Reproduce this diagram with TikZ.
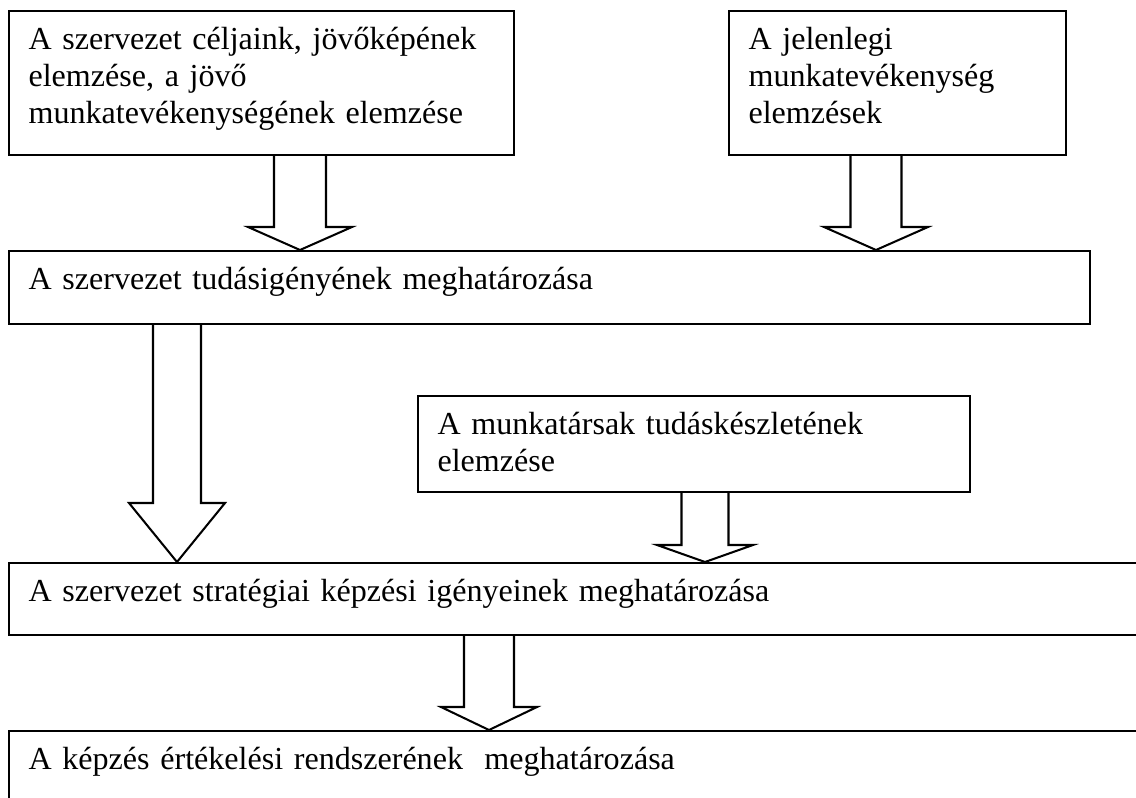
\documentclass[tikz,border=0pt]{standalone}
\usepackage{fontspec}
\setmainfont{Liberation Serif}
\usepackage{tikz}
\usetikzlibrary{calc}

\def\px{0.368pt}
\tikzset{
  doboz/.style={draw, line width=0.75pt, anchor=north west, align=left,
    inner xsep=7.2pt, inner ysep=3.6pt, text height=10.5pt,
    font=\fontsize{11.8}{13.6}\selectfont},
  nyil/.style={line width=0.75pt}
}
% hollow block arrow: x, from node, to node, half shaft, half head, head length
\newcommand{\tompanyil}[6]{%
  \draw[nyil] let \p1=(#2.south), \p2=(#3.north), \p3=(#1,0) in
    (\x3-#4*\px,\y1) -- (\x3-#4*\px,\y2+#6*\px) -- (\x3-#5*\px,\y2+#6*\px)
    -- (\x3,\y2) -- (\x3+#5*\px,\y2+#6*\px) -- (\x3+#4*\px,\y2+#6*\px)
    -- (\x3+#4*\px,\y1);}

\begin{document}
\begin{tikzpicture}[x=0.368pt,y=-0.368pt]
\useasboundingbox (0,0) rectangle (1136,798);
\node[doboz, text width=171.4pt, text depth=35.3pt] (celok) at (8,10)
  {A szervezet céljaink, jövőképének\\elemzése, a jövő\\munkatevékenységének elemzése};
\node[doboz, text width=109.6pt, text depth=35.3pt] (jelen) at (728,10)
  {A jelenlegi\\munkatevékenység\\elemzések};
\node[doboz, text width=383.4pt, text depth=9.2pt] (tudasigeny) at (8,250)
  {A szervezet tudásigényének meghatározása};
\node[doboz, text width=188.7pt, text depth=17.6pt] (keszlet) at (417,395)
  {A munkatársak tudáskészletének\\elemzése};
\node[doboz, text width=409.5pt, text depth=8.8pt] (strategia) at (8,562)
  {A szervezet stratégiai képzési igényeinek meghatározása};
\node[doboz, text width=409.5pt, text depth=15.4pt] (ertekeles) at (8,730)
  {A képzés értékelési rendszerének~ meghatározása};
\tompanyil{300}{celok}{tudasigeny}{26}{52}{23}
\tompanyil{876}{jelen}{tudasigeny}{25.5}{52}{23}
\tompanyil{177}{tudasigeny}{strategia}{24}{48}{59}
\tompanyil{705}{keszlet}{strategia}{23.5}{48}{17}
\tompanyil{489}{strategia}{ertekeles}{25}{48}{23}
\end{tikzpicture}
\end{document}
